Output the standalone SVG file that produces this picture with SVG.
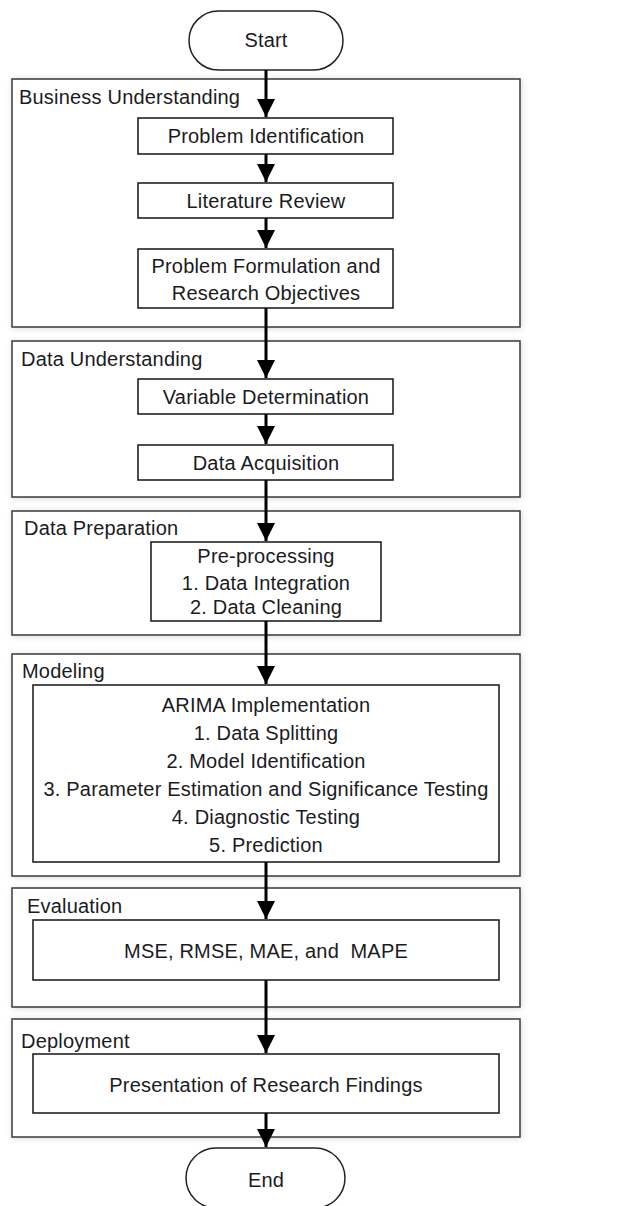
<svg xmlns="http://www.w3.org/2000/svg" width="628" height="1206" viewBox="0 0 628 1206">
  <defs>
    <marker id="arrow" markerUnits="userSpaceOnUse" markerWidth="20" markerHeight="20" refX="18" refY="9" orient="auto">
      <path d="M0,0 L18,9 L0,18 Z" fill="#000"/>
    </marker>
    <filter id="shadow" x="-5%" y="-5%" width="110%" height="110%">
      <feGaussianBlur in="SourceAlpha" stdDeviation="3"/>
      <feOffset dx="1" dy="1"/>
      <feComponentTransfer><feFuncA type="linear" slope="0.15"/></feComponentTransfer>
      <feMerge><feMergeNode/><feMergeNode in="SourceGraphic"/></feMerge>
    </filter>
  </defs>
  <style>
    text { font-family: "Liberation Sans", Arial, sans-serif; font-size: 20px; letter-spacing: 0.2px; fill: #1b1b22; }
    .mid { text-anchor: middle; }
    .phase { fill: #fff; stroke: #3a3a3a; stroke-width: 1.5; filter: url(#shadow); }
    .box { fill: #fff; stroke: #222; stroke-width: 1.6; }
    .term { fill: #fff; stroke: #222; stroke-width: 1.5; }
    .conn { stroke: #000; stroke-width: 3; fill: none; marker-end: url(#arrow); }
  </style>
  <rect width="628" height="1206" fill="#fff"/>

  <!-- phase containers -->
  <g id="phase-business">
    <rect class="phase" x="12" y="79" width="508" height="248"/>
    <text x="19" y="104">Business Understanding</text>
  </g>
  <g id="phase-data-understanding">
    <rect class="phase" x="12" y="341" width="508" height="156"/>
    <text x="21" y="366">Data Understanding</text>
  </g>
  <g id="phase-data-preparation">
    <rect class="phase" x="12" y="511" width="508" height="124"/>
    <text x="24" y="535">Data Preparation</text>
  </g>
  <g id="phase-modeling">
    <rect class="phase" x="12" y="654" width="508" height="222"/>
    <text x="22" y="678">Modeling</text>
  </g>
  <g id="phase-evaluation">
    <rect class="phase" x="12" y="888" width="508" height="119"/>
    <text x="27" y="913">Evaluation</text>
  </g>
  <g id="phase-deployment">
    <rect class="phase" x="12" y="1019" width="508" height="118"/>
    <text x="21" y="1048">Deployment</text>
  </g>

  <!-- process nodes -->
  <g id="start">
    <rect class="term" x="189" y="11" width="154" height="59" rx="29.5"/>
    <text class="mid" x="266" y="47">Start</text>
  </g>
  <g id="problem-identification">
    <rect class="box" x="138" y="118" width="255" height="36"/>
    <text class="mid" x="266" y="143">Problem Identification</text>
  </g>
  <g id="literature-review">
    <rect class="box" x="138" y="183" width="255" height="35"/>
    <text class="mid" x="266" y="208">Literature Review</text>
  </g>
  <g id="problem-formulation">
    <rect class="box" x="138" y="249" width="255" height="59"/>
    <text class="mid" x="266" y="273">Problem Formulation and</text>
    <text class="mid" x="266" y="300">Research Objectives</text>
  </g>
  <g id="variable-determination">
    <rect class="box" x="138" y="379" width="255" height="35"/>
    <text class="mid" x="266" y="404">Variable Determination</text>
  </g>
  <g id="data-acquisition">
    <rect class="box" x="138" y="445" width="255" height="35"/>
    <text class="mid" x="266" y="470">Data Acquisition</text>
  </g>
  <g id="pre-processing">
    <rect class="box" x="151" y="542" width="230" height="79"/>
    <text class="mid" x="266" y="563">Pre-processing</text>
    <text class="mid" x="266" y="590">1. Data Integration</text>
    <text class="mid" x="266" y="614">2. Data Cleaning</text>
  </g>
  <g id="arima">
    <rect class="box" x="33" y="685" width="466" height="177"/>
    <text class="mid" x="266" y="712">ARIMA Implementation</text>
    <text class="mid" x="266" y="740">1. Data Splitting</text>
    <text class="mid" x="266" y="768">2. Model Identification</text>
    <text class="mid" x="266" y="796">3. Parameter Estimation and Significance Testing</text>
    <text class="mid" x="266" y="824">4. Diagnostic Testing</text>
    <text class="mid" x="266" y="852">5. Prediction</text>
  </g>
  <g id="metrics">
    <rect class="box" x="33" y="920" width="466" height="60"/>
    <text class="mid" x="266" y="958" xml:space="preserve">MSE, RMSE, MAE, and  MAPE</text>
  </g>
  <g id="presentation">
    <rect class="box" x="33" y="1054" width="466" height="59"/>
    <text class="mid" x="266" y="1092">Presentation of Research Findings</text>
  </g>
  <g id="end">
    <rect class="term" x="186" y="1148" width="159" height="60" rx="30"/>
    <text class="mid" x="266" y="1187">End</text>
  </g>

  <!-- connectors -->
  <g id="connectors">
    <line class="conn" x1="266" y1="70" x2="266" y2="117"/>
    <line class="conn" x1="266" y1="154" x2="266" y2="182"/>
    <line class="conn" x1="266" y1="218" x2="266" y2="248"/>
    <line class="conn" x1="266" y1="308" x2="266" y2="378"/>
    <line class="conn" x1="266" y1="414" x2="266" y2="444"/>
    <line class="conn" x1="266" y1="480" x2="266" y2="541"/>
    <line class="conn" x1="266" y1="621" x2="266" y2="684"/>
    <line class="conn" x1="266" y1="862" x2="266" y2="919"/>
    <line class="conn" x1="266" y1="980" x2="266" y2="1053"/>
    <line class="conn" x1="266" y1="1113" x2="266" y2="1147"/>
  </g>
</svg>
